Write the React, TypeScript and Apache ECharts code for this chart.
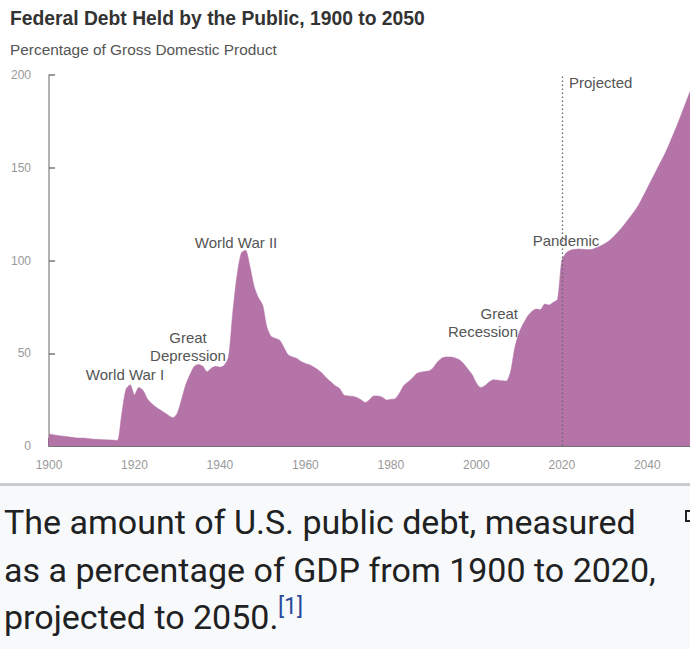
import React, { useEffect, useRef } from "react";
import * as echarts from "echarts";

// ---- Data ----
const startYear = 1900;
// Federal debt held by the public, % of GDP, one value per year 1900..2050
const debtPct: number[] = [
  // 1900-1909
  6.5, 6.1, 5.7, 5.4, 5.1, 4.8, 4.5, 4.3, 4.3, 4.1,
  // 1910-1919
  3.8, 3.6, 3.5, 3.4, 3.3, 3.2, 2.9, 17, 30.5, 33,
  // 1920-1929
  27.5, 31.5, 30, 25.5, 23, 21, 19.5, 18, 16.5, 15.2,
  // 1930-1939
  17.5, 25, 33, 38.5, 43, 44, 43, 40, 42, 43,
  // 1940-1949
  42.5, 43.5, 48, 72, 92, 104, 105.5, 97, 86, 80,
  // 1950-1959
  76, 64, 59, 58, 57, 53, 49, 48, 47.2, 45.5,
  // 1960-1969
  44.5, 43.8, 42.5, 41, 39, 36.5, 34.5, 32.5, 31, 27.5,
  // 1970-1979
  27, 26.8, 26.2, 25, 23.5, 25, 27, 27, 26.3, 24.8,
  // 1980-1989
  25.2, 25.5, 28.5, 32.5, 34.5, 36.5, 39, 39.8, 40.2, 40.5,
  // 1990-1999
  42.5, 45.5, 47.5, 48, 48, 47.5, 46.5, 44.5, 41.5, 38.5,
  // 2000-2009
  34, 31.5, 32.5, 34.5, 35.7, 35.5, 35.2, 35, 40, 53,
  // 2010-2019
  61, 66, 70, 72.5, 73.8, 73.5, 76.5, 76, 77.5, 79,
  // 2020-2029
  100, 104, 105.5, 106, 106.2, 106, 105.8, 106, 106.8, 107.8,
  // 2030-2039
  109, 110.5, 112.5, 115, 117.5, 120.5, 123.5, 126.5, 130, 134.5,
  // 2040-2049
  139, 143.5, 148, 152.5, 157, 162, 167.5, 173, 179, 185,
  // 2050
  191,
];
const projectionStartYear = 2020;
const xMin = 1900;
const xMax = 2050;
const xInterval = 20;
const yMin = 0;
const yMax = 200;
const yInterval = 50;

const titleText = "Federal Debt Held by the Public, 1900 to 2050";
const subtitleText = "Percentage of Gross Domestic Product";
const captionLines = [
  "The amount of U.S. public debt, measured",
  "as a percentage of GDP from 1900 to 2020,",
  "projected to 2050.",
];
const captionRef = "[1]";

const FONT = "'Liberation Sans', Arial, Helvetica, sans-serif";
const CAPTION_FONT = "Roboto, 'Noto Sans', sans-serif";
const AREA = "#b474a8";
const ANNO = "#555555";

export default function App() {
  const ref = useRef<HTMLDivElement>(null);

  useEffect(() => {
    document.body.style.margin = "0";
    if (!ref.current) return;
    const chart = echarts.init(ref.current, undefined, { renderer: "svg" });

    const seriesData = debtPct.map((v, i) => [startYear + i, v]);

    const annoText = (
      text: string,
      x: number,
      y: number,
      align: string = "center"
    ) => ({
      type: "text",
      x,
      y,
      silent: true,
      style: {
        text,
        fill: ANNO,
        font: `15px ${FONT}`,
        align,
        textAlign: align,
        verticalAlign: "middle",
        textVerticalAlign: "middle",
      },
    });

    chart.setOption({
      animation: false,
      backgroundColor: "#ffffff",
      grid: { left: 49, top: 75, width: 643.6, height: 371 },
      xAxis: {
        type: "value",
        min: xMin,
        max: xMax,
        interval: xInterval,
        axisLine: { show: true, lineStyle: { color: "#444", width: 1.5 } },
        axisTick: {
          show: true,
          inside: true,
          length: 8,
          lineStyle: { color: "#8a4f7e", width: 1.5 },
        },
        axisLabel: {
          color: "#999",
          fontSize: 12,
          fontFamily: FONT,
          margin: 13,
          showMaxLabel: false,
          formatter: (v: number) => String(v),
        },
        splitLine: { show: false },
      },
      yAxis: {
        type: "value",
        min: yMin,
        max: yMax,
        interval: yInterval,
        axisLine: { show: true, lineStyle: { color: "#999", width: 1.5 } },
        axisTick: {
          show: true,
          inside: true,
          length: 6,
          lineStyle: { color: "#777", width: 1.5 },
        },
        axisLabel: {
          color: "#999",
          fontSize: 12,
          fontFamily: FONT,
          margin: 18,
        },
        splitLine: { show: false },
      },
      series: [
        {
          type: "line",
          data: seriesData,
          showSymbol: false,
          symbol: "none",
          smooth: 0.25,
          lineStyle: { width: 0.5, color: AREA },
          areaStyle: { color: AREA, opacity: 1 },
          z: 1,
          markLine: {
            silent: true,
            symbol: ["none", "none"],
            label: { show: false },
            lineStyle: { type: [1.5, 2.5], color: "#666", width: 1.3 },
            data: [{ xAxis: projectionStartYear }],
          },
        },
      ],
      graphic: [
        {
          type: "text",
          x: 10,
          y: 18,
          style: {
            text: titleText,
            fill: "#333",
            font: `bold 19.3px ${FONT}`,
            verticalAlign: "middle",
            textVerticalAlign: "middle",
          },
        },
        {
          type: "text",
          x: 10,
          y: 49,
          style: {
            text: subtitleText,
            fill: "#555",
            font: `15.4px ${FONT}`,
            verticalAlign: "middle",
            textVerticalAlign: "middle",
          },
        },
        annoText("Projected", 569, 82, "left"),
        annoText("World War II", 236, 242),
        annoText("Great", 188, 337),
        annoText("Depression", 188, 355),
        annoText("World War I", 125, 374),
        annoText("Great", 518, 313, "right"),
        annoText("Recession", 518, 331, "right"),
        annoText("Pandemic", 566, 240),
        // caption box
        {
          type: "rect",
          shape: { x: 0, y: 483, width: 690, height: 3 },
          style: { fill: "#c8ccd1" },
          silent: true,
        },
        {
          type: "rect",
          shape: { x: 0, y: 486, width: 690, height: 163 },
          style: { fill: "#f8f9fa" },
          silent: true,
        },
        {
          type: "rect",
          shape: { x: 686, y: 511, width: 10, height: 10 },
          style: { fill: "none", stroke: "#222", lineWidth: 2 },
          silent: true,
        },
        ...captionLines.map((t, i) => ({
          type: "text",
          x: 4,
          y: 522 + i * 47.5,
          silent: true,
          style: {
            text: t,
            fill: "#202122",
            font: `34px ${CAPTION_FONT}`,
            verticalAlign: "middle",
            textVerticalAlign: "middle",
          },
        })),
        {
          type: "text",
          x: 278,
          y: 606,
          silent: true,
          style: {
            text: captionRef,
            fill: "#2a4b9b",
            font: `23px ${CAPTION_FONT}`,
            verticalAlign: "middle",
            textVerticalAlign: "middle",
          },
        },
      ],
    });

    return () => chart.dispose();
  }, []);

  return <div ref={ref} style={{ width: 690, height: 649 }} />;
}
